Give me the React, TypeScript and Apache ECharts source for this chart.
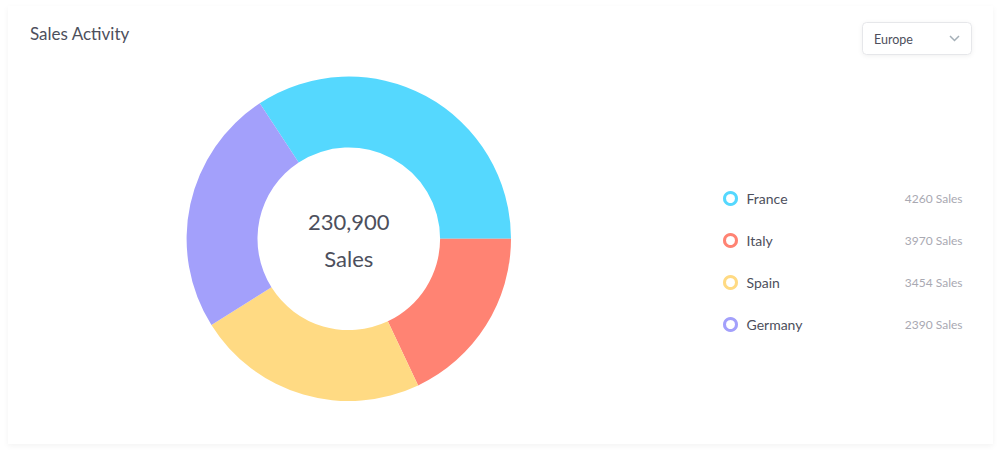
import React, { useEffect, useRef } from "react";
import * as echarts from "echarts";

const countries = ["France", "Italy", "Spain", "Germany"];
const legendSales = [4260, 3970, 3454, 2390];
const sliceShares = [34.25, 17.97, 23.11, 24.67];
const colors = ["#55d8fe", "#ff8373", "#ffda83", "#a3a0fb"];
const totalSales = "230,900";
const totalLabel = "Sales";
const chartTitle = "Sales Activity";
const regionName = "Europe";

const FONT = "Lato, 'Noto Sans', sans-serif";
const DARK = "#4d4f5c";

export default function App() {
  const ref = useRef<HTMLDivElement>(null);
  useEffect(() => {
    if (!ref.current) return;
    const chart = echarts.init(ref.current, undefined, { renderer: "svg" });
    const salesByName: Record<string, number> = {};
    countries.forEach((c, i) => (salesByName[c] = legendSales[i]));
    chart.setOption({
      animation: false,
      textStyle: { fontFamily: FONT },
      color: colors,
      title: {
        text: chartTitle,
        left: 17,
        top: 14,
        textStyle: { fontFamily: FONT, fontSize: 17, fontWeight: "normal", color: DARK },
      },
      legend: {
        orient: "vertical",
        left: 710,
        top: 180,
        icon: "circle",
        itemWidth: 12,
        itemHeight: 12,
        itemGap: 27,
        selectedMode: false,
        data: countries.map((c, i) => ({
          name: c,
          itemStyle: { color: "#ffffff", borderColor: colors[i], borderWidth: 3 },
        })),
        formatter: (name: string) => `{n|${name}}{v|${salesByName[name]} Sales}`,
        textStyle: {
          fontFamily: FONT,
          rich: {
            n: { fontSize: 14, color: DARK, width: 140, padding: [0, 0, 0, 5], lineHeight: 16, fontFamily: FONT },
            v: { fontSize: 12, color: "#a9a9b2", width: 76, align: "right", lineHeight: 16, fontFamily: FONT },
          },
        },
      },
      series: [
        {
          type: "pie",
          center: [340.8, 232.8],
          radius: [91.3, 162.2],
          startAngle: 123.3,
          clockwise: true,
          label: { show: false },
          labelLine: { show: false },
          emphasis: { disabled: true },
          itemStyle: { borderWidth: 0 },
          data: countries.map((c, i) => ({ name: c, value: sliceShares[i] })),
        },
      ],
      graphic: [
        {
          type: "text",
          x: 340.8,
          y: 215,
          style: { text: totalSales, fontSize: 22, fontFamily: FONT, fill: DARK, align: "center", verticalAlign: "middle" },
        },
        {
          type: "text",
          x: 340.8,
          y: 252,
          style: { text: totalLabel, fontSize: 22, fontFamily: FONT, fill: DARK, align: "center", verticalAlign: "middle" },
        },
        {
          type: "rect",
          shape: { x: 854.5, y: 16.5, width: 109, height: 32, r: 4 },
          style: { fill: "#ffffff", stroke: "#e6e7ea", lineWidth: 1, shadowBlur: 4, shadowColor: "rgba(0,0,0,0.06)", shadowOffsetY: 1 },
        },
        {
          type: "text",
          x: 866,
          y: 33,
          style: { text: regionName, fontSize: 12.5, fontFamily: FONT, fill: DARK, verticalAlign: "middle" },
        },
        {
          type: "polyline",
          shape: { points: [[942, 30], [946.5, 34.5], [951, 30]] },
          style: { stroke: "#a4afb7", lineWidth: 1.5, fill: null },
        },
      ],
    });
    return () => chart.dispose();
  }, []);
  return (
    <div
      style={{
        position: "absolute",
        left: 8,
        top: 6,
        width: 985,
        height: 438,
        background: "#ffffff",
        boxShadow: "0 2px 6px rgba(0,0,0,0.05)",
      }}
    >
      <div ref={ref} style={{ width: 985, height: 438 }} />
    </div>
  );
}
